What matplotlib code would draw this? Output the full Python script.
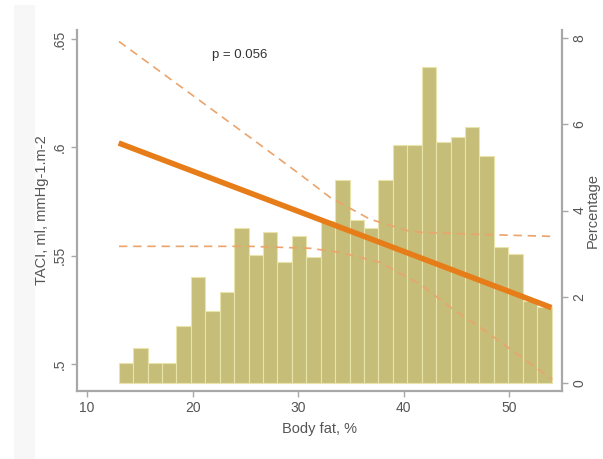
import numpy as np
import matplotlib
matplotlib.use("Agg")
import matplotlib.pyplot as plt
from matplotlib.patches import Rectangle

# ---------------- data ----------------
bin_left = 13.0
bin_width = 1.367
pct = [0.46, 0.81, 0.46, 0.46, 1.33, 2.47, 1.68, 2.10, 3.59, 2.97,
       3.50, 2.80, 3.42, 2.93, 3.75, 4.71, 3.78, 3.60, 4.71, 5.52,
       5.52, 7.33, 5.59, 5.71, 5.94, 5.27, 3.16, 3.00, 1.90, 1.76]

fit_x = [13.0, 54.0]
fit_y = [0.602, 0.526]

ci_hi_x = [13.03, 25.45, 30.19, 33.03, 36.82, 37.77, 40.62, 41.56, 47.25, 54.08]
ci_hi_y = [0.6489, 0.6046, 0.5875, 0.5769, 0.5668, 0.5654, 0.5612, 0.5608, 0.5598, 0.5589]

ci_lo_x = [13.03, 25.45, 31.14, 33.98, 37.77, 41.56, 44.69, 47.91, 51.04, 54.08]
ci_lo_y = [0.5543, 0.5543, 0.5534, 0.5515, 0.5469, 0.5368, 0.5252, 0.5146, 0.5035, 0.4929]

x_ticks = [10, 20, 30, 40, 50]
y_ticks = [0.5, 0.55, 0.6, 0.65]
y_ticklabels = [".5", ".55", ".6", ".65"]
y2_ticks = [0, 2, 4, 6, 8]

p_text = "p = 0.056"
x_label = "Body fat, %"
y_label = "TACI, ml, mmHg-1.m-2"
y2_label = "Percentage"

# ---------------- style ----------------
plt.rcParams['font.family'] = ['Liberation Sans', 'DejaVu Sans']
txt_col = '#555555'
spine_col = '#a8a8a8'
bar_col = '#c6bd79'
bar_edge = '#e9e3ac'
fit_col = '#e67d19'
ci_col = '#eaa46c'

fig = plt.figure(figsize=(6.03, 4.59), dpi=100, facecolor='white')
# faint scan border
fig.patches.append(Rectangle((14/603, 0), 21/603, 1 - 5/459, transform=fig.transFigure,
                             facecolor='#f7f7f7', edgecolor='none', zorder=-10))

ax = fig.add_axes([77/603, 1 - 391/459, 485/603, 361/459])
ax2 = ax.twinx()
ax.set_zorder(ax2.get_zorder() + 1)
ax.patch.set_visible(False)

# histogram on right axis
edges = bin_left + bin_width * np.arange(len(pct))
ax2.bar(edges, pct, width=bin_width, align='edge', color=bar_col,
        edgecolor=bar_edge, linewidth=0.8)

# fit and CI on left axis
ax.plot(ci_hi_x, ci_hi_y, color=ci_col, lw=1.2, linestyle=(0, (5, 3.5)))
ax.plot(ci_lo_x, ci_lo_y, color=ci_col, lw=1.2, linestyle=(0, (5, 3.5)))
ax.plot(fit_x, fit_y, color=fit_col, lw=4.0, solid_capstyle='butt')

ax.text(21.85, 0.6425, p_text, fontsize=9.5, color='#333333', va='center', ha='left')

ax.set_xlim(9.05, 55.0)
ax.set_ylim(0.4875, 0.6542)
ax2.set_ylim(-0.186, 8.19)

ax.set_xticks(x_ticks)
ax.set_yticks(y_ticks)
ax.set_yticklabels(y_ticklabels)
ax2.set_yticks(y2_ticks)

for a in (ax, ax2):
    for s in a.spines.values():
        s.set_visible(False)
ax.spines['left'].set_visible(True)
ax.spines['bottom'].set_visible(True)
ax2.spines['right'].set_visible(True)
for s in (ax.spines['left'], ax.spines['bottom'], ax2.spines['right']):
    s.set_color(spine_col)
    s.set_linewidth(1.6)

ax.tick_params(axis='both', colors=spine_col, labelcolor=txt_col, length=4, width=1.0,
               labelsize=10)
ax2.tick_params(axis='y', colors=spine_col, labelcolor=txt_col, length=4, width=1.0,
                labelsize=10)
for lab in ax.get_yticklabels():
    lab.set_rotation(90)
    lab.set_va('center')
for lab in ax2.get_yticklabels():
    lab.set_rotation(90)
    lab.set_va('center')

ax.set_xlabel(x_label, fontsize=10.5, color=txt_col, labelpad=5)
ax.set_ylabel(y_label, fontsize=10.5, color=txt_col, va='center', ha='center')
ax2.set_ylabel(y2_label, fontsize=10.5, color=txt_col, rotation=90, va='center', ha='center')
ax.yaxis.set_label_coords(-0.072, 0.5)
ax2.yaxis.set_label_coords(1.064, 0.5)

fig.savefig('out.png', dpi=100, facecolor='white')
